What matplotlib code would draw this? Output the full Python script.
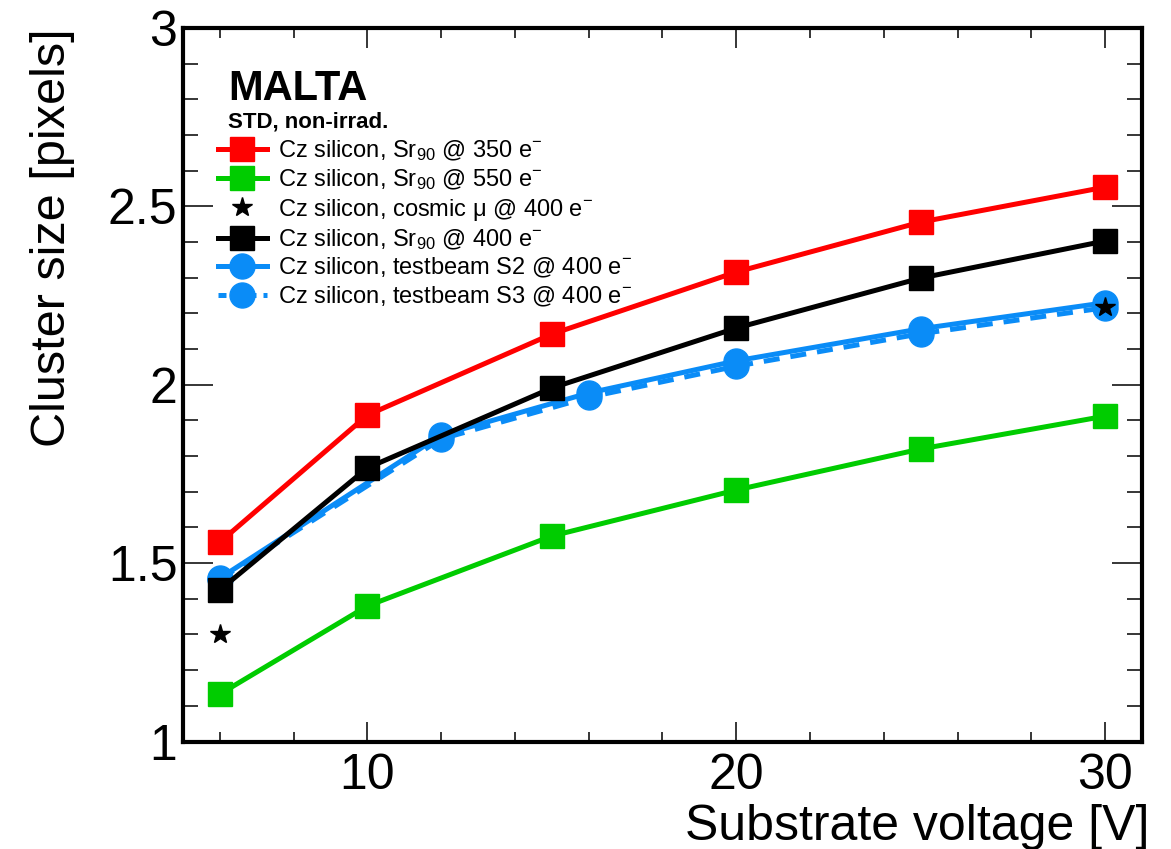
import matplotlib
matplotlib.use('Agg')

import matplotlib.pyplot as plt
from matplotlib.ticker import MultipleLocator, FixedLocator
from matplotlib.lines import Line2D

plt.rcParams['font.family'] = ['Liberation Sans', 'DejaVu Sans']
plt.rcParams['mathtext.fontset'] = 'custom'
plt.rcParams['mathtext.rm'] = 'Liberation Sans'
plt.rcParams['mathtext.it'] = 'Liberation Sans'

# --- measurements: cluster size vs substrate voltage ---
v_sr = [6, 10, 15, 20, 25, 30]
cs_sr350 = [1.559, 1.915, 2.142, 2.316, 2.456, 2.554]
cs_sr550 = [1.133, 1.380, 1.576, 1.705, 1.820, 1.912]
cs_sr400 = [1.425, 1.767, 1.991, 2.159, 2.299, 2.403]

v_cosmic = [6, 30]
cs_cosmic = [1.301, 2.218]

v_tb = [6, 12, 16, 20, 25, 30]
cs_tb_s2 = [1.458, 1.859, 1.977, 2.067, 2.157, 2.230]
cs_tb_s3 = [1.455, 1.848, 1.965, 2.052, 2.143, 2.216]

labels = [
    r'Cz silicon, Sr$_{90}$ @ 350 e$^{-}$',
    r'Cz silicon, Sr$_{90}$ @ 550 e$^{-}$',
    r'Cz silicon, cosmic μ @ 400 e$^{-}$',
    r'Cz silicon, Sr$_{90}$ @ 400 e$^{-}$',
    r'Cz silicon, testbeam S2 @ 400 e$^{-}$',
    r'Cz silicon, testbeam S3 @ 400 e$^{-}$',
]

RED = '#ff0000'
GREEN = '#00cc00'
BLUE = '#0a8cf7'

fig = plt.figure(figsize=(11.71, 8.49), dpi=100)
ax = fig.add_axes([0.1563, 0.1266, 0.8189, 0.8404])

lw = 3.6
ms_sq = 17
ms_c = 18

h_s3, = ax.plot(v_tb, cs_tb_s3, color=BLUE, lw=lw, ls=(0, (3.2, 2.2)),
                marker='o', ms=ms_c, mec=BLUE)
h_s2, = ax.plot(v_tb, cs_tb_s2, color=BLUE, lw=lw, marker='o', ms=ms_c, mec=BLUE)
h_350, = ax.plot(v_sr, cs_sr350, color=RED, lw=lw, marker='s', ms=ms_sq, mec=RED)
h_550, = ax.plot(v_sr, cs_sr550, color=GREEN, lw=lw, marker='s', ms=ms_sq, mec=GREEN)
h_400, = ax.plot(v_sr, cs_sr400, color='black', lw=lw, marker='s', ms=ms_sq, mec='black')
h_cos, = ax.plot(v_cosmic, cs_cosmic, ls='none', color='black', marker='*', ms=15)

ax.set_xlim(5, 31)
ax.set_ylim(1, 3)

ax.xaxis.set_major_locator(FixedLocator([10, 20, 30]))
ax.xaxis.set_minor_locator(MultipleLocator(2))
ax.yaxis.set_minor_locator(MultipleLocator(0.1))
ax.set_yticks([1, 1.5, 2, 2.5, 3])
ax.set_yticklabels(['1', '1.5', '2', '2.5', '3'], fontsize=36)
ax.set_xticklabels(['10', '20', '30'], fontsize=36)

ax.tick_params(which='both', direction='in', top=True, right=True, width=1.1, color='black')
ax.tick_params(axis='x', which='major', length=14.5, pad=8)
ax.tick_params(axis='x', which='minor', length=7.2)
ax.tick_params(axis='y', which='major', length=21.5, pad=4)
ax.tick_params(axis='y', which='minor', length=10.8)
for sp in ax.spines.values():
    sp.set_linewidth(3)

ax.set_xlabel('Substrate voltage [V]', fontsize=36, ha='right', x=1.008, labelpad=4)
ax.set_ylabel('Cluster size [pixels]', fontsize=35, ha='right', y=1.0, labelpad=24)

ax.text(0.047, 0.899, 'MALTA', transform=ax.transAxes, fontsize=30, fontweight='bold')
ax.text(0.047, 0.860, 'STD, non-irrad.', transform=ax.transAxes, fontsize=16, fontweight='bold')

leg_handles = [
    h_350, h_550, h_cos, h_400,
    Line2D([], [], color=BLUE, lw=lw, marker='o', ms=ms_c),
    Line2D([], [], color=BLUE, lw=lw, ls=(0, (1.6, 1.4)), marker='o', ms=ms_c),
]
leg = ax.legend(leg_handles, labels, loc='upper left', bbox_to_anchor=(0.036, 0.845),
                frameon=False, fontsize=17, handlelength=2.1, handletextpad=0.45,
                labelspacing=0.18, borderaxespad=0, borderpad=0)

fig.savefig('out.png', dpi=100)
